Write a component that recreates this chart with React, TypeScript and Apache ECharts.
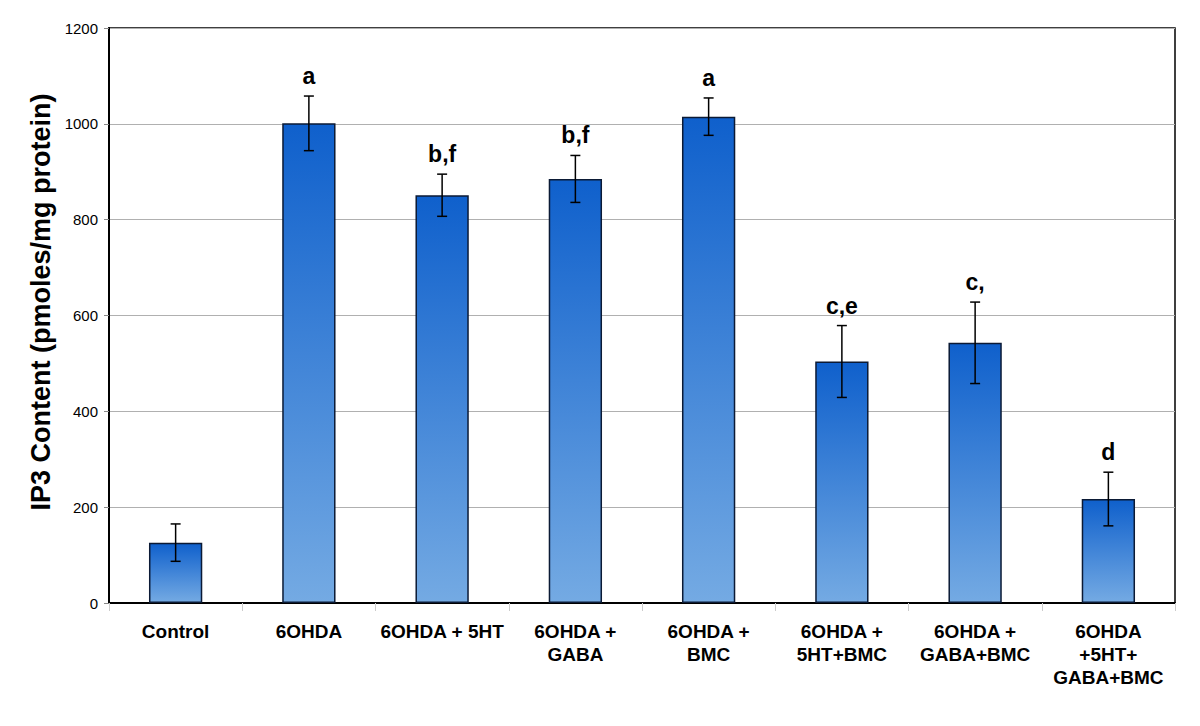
import React, { useEffect, useRef } from "react";
import * as echarts from "echarts";

const categories = [
  "Control",
  "6OHDA",
  "6OHDA + 5HT",
  "6OHDA +\nGABA",
  "6OHDA +\nBMC",
  "6OHDA +\n5HT+BMC",
  "6OHDA +\nGABA+BMC",
  "6OHDA\n+5HT+\nGABA+BMC",
];
const means = [126, 1001, 851, 885, 1015, 504, 543, 217];
const errors = [39, 57, 44, 49, 39, 75, 85, 56];
const sigLabels = ["", "a", "b,f", "b,f", "a", "c,e", "c,", "d"];
const yTicks = { min: 0, max: 1200, interval: 200 };
const yTitle = "IP3 Content (pmoles/mg protein)";

export default function App() {
  const ref = useRef<HTMLDivElement>(null);
  useEffect(() => {
    document.body.style.margin = "0";
    const chart = echarts.init(ref.current!, null, { renderer: "svg" });
    const errData = means.map((m, i) => [i, m - errors[i], m + errors[i]]);
    chart.setOption({
      animation: false,
      backgroundColor: "#fff",
      grid: {
        left: 109,
        top: 28,
        width: 1066,
        height: 575,
        show: true,
        borderColor: "#000",
        borderWidth: 1.5,
        containLabel: false,
      },
      graphic: [
        {
          type: "text",
          x: 41,
          y: 302,
          rotation: Math.PI / 2,
          style: {
            text: yTitle,
            fill: "#000",
            font: "bold 27px 'Liberation Sans', Arial, sans-serif",
            align: "center",
            verticalAlign: "middle",
          },
        },
      ],
      xAxis: {
        type: "category",
        data: categories,
        boundaryGap: true,
        axisLine: { show: true, lineStyle: { color: "#000", width: 2 } },
        axisTick: { show: true, length: 8, lineStyle: { color: "#ccc", width: 1 } },
        axisLabel: {
          interval: 0,
          margin: 17,
          color: "#000",
          fontFamily: "Liberation Sans, Arial, sans-serif",
          fontWeight: "bold",
          fontSize: 19,
          lineHeight: 23,
        },
        splitLine: { show: false },
      },
      yAxis: {
        type: "value",
        min: yTicks.min,
        max: yTicks.max,
        interval: yTicks.interval,
        axisLine: { show: true, lineStyle: { color: "#000", width: 2 } },
        axisTick: { show: true, length: 5, lineStyle: { color: "#888", width: 1 } },
        axisLabel: {
          margin: 11,
          color: "#000",
          fontFamily: "Liberation Sans, Arial, sans-serif",
          fontSize: 15,
          formatter: (v: number) => String(v),
        },
        splitLine: { show: true, lineStyle: { color: "#b0b0b0", width: 1 } },
      },
      series: [
        {
          type: "bar",
          data: means,
          barWidth: "40%",
          itemStyle: {
            color: new echarts.graphic.LinearGradient(0, 0, 0, 1, [
              { offset: 0, color: "#0f60cc" },
              { offset: 1, color: "#74aae3" },
            ]),
            borderColor: "#0b1a35",
            borderWidth: 1.5,
          },
          z: 2,
        },
        {
          type: "custom",
          data: errData,
          z: 5,
          renderItem: (params: any, api: any) => {
            const i = api.value(0);
            const lo = api.coord([i, api.value(1)]);
            const hi = api.coord([i, api.value(2)]);
            const x = lo[0];
            const cap = 5;
            const label = sigLabels[params.dataIndex];
            const style = { stroke: "#000", lineWidth: 1.5 };
            return {
              type: "group",
              children: [
                { type: "line", shape: { x1: x, y1: lo[1], x2: x, y2: hi[1] }, style },
                { type: "line", shape: { x1: x - cap, y1: hi[1], x2: x + cap, y2: hi[1] }, style },
                { type: "line", shape: { x1: x - cap, y1: lo[1], x2: x + cap, y2: lo[1] }, style },
                {
                  type: "text",
                  x: x,
                  y: hi[1] - 20,
                  style: {
                    text: label,
                    fill: "#000",
                    font: "bold 23px 'Liberation Sans', Arial, sans-serif",
                    align: "center",
                    verticalAlign: "middle",
                  },
                },
              ],
            };
          },
        },
      ],
    });
    return () => chart.dispose();
  }, []);
  return <div ref={ref} style={{ width: 1200, height: 726 }} />;
}
